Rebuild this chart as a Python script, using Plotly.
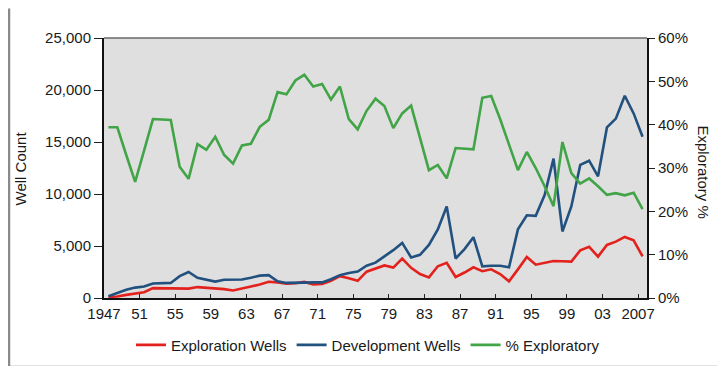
import plotly.graph_objects as go

years = list(range(1947, 2008))

exploration = [100, 150, 300, 400, 550, 950, 950, 920, 920, 900,
               1050, 1000, 880, 850, 720, 880, 1100, 1300, 1560, 1500,
               1380, 1420, 1550, 1300, 1350, 1650, 2100, 1900, 1650, 2530,
               2800, 3130, 2920, 3790, 2900, 2300, 1980, 3050, 3380, 2020,
               2450, 2950, 2580, 2760, 2300, 1600, 2750, 3950, 3200, 3380,
               3550, 3530, 3500, 4580, 4920, 3980, 5100, 5420, 5870, 5550,
               4000]

development = [160, 450, 800, 1000, 1100, 1400, 1420, 1450, 2100, 2500,
               1950, 1750, 1580, 1750, 1800, 1780, 1950, 2150, 2200, 1600,
               1450, 1500, 1480, 1500, 1500, 1800, 2200, 2400, 2550, 3100,
               3400, 4000, 4600, 5300, 3900, 4150, 5100, 6600, 8800, 3800,
               4700, 5850, 3050, 3100, 3100, 2950, 6600, 7950, 7900, 9900,
               13400, 6400, 8800, 12800, 13200, 11700, 16400, 17250, 19450, 17750,
               15500]

pct_exploratory = [39.4, 39.4, 33.0, 26.8, 34.0, 41.3, 41.2, 41.1, 30.3, 27.5,
                   35.5, 34.2, 37.2, 33.0, 31.0, 35.2, 35.6, 39.5, 41.1, 47.5,
                   47.0, 50.2, 51.5, 48.8, 49.4, 45.8, 48.8, 41.3, 38.9, 43.2,
                   46.0, 44.3, 39.2, 42.6, 44.4, 37.0, 29.5, 30.7, 27.6, 34.6,
                   34.4, 34.3, 46.2, 46.6, 41.3, 35.6, 29.5, 33.7, 30.0, 25.8,
                   21.2, 36.0, 28.8, 26.4, 27.6, 25.8, 23.8, 24.2, 23.7, 24.3,
                   20.5]

tick_years = list(range(1947, 2008, 4))
tick_labels = ["1947", "51", "55", "59", "63", "67", "71", "75", "79",
               "83", "87", "91", "95", "99", "03", "2007"]

left_ticks = [0, 5000, 10000, 15000, 20000, 25000]
left_labels = ["0", "5,000", "10,000", "15,000", "20,000", "25,000"]
right_ticks = [0, 10, 20, 30, 40, 50, 60]
right_labels = ["0%", "10%", "20%", "30%", "40%", "50%", "60%"]

RED = "#e3221d"
BLUE = "#22507f"
GREEN = "#41a447"
FONT = "Arial, Liberation Sans, sans-serif"

fig = go.Figure()
fig.add_trace(go.Scatter(x=years, y=exploration, name="Exploration Wells",
                         mode="lines", line=dict(color=RED, width=2.6)))
fig.add_trace(go.Scatter(x=years, y=development, name="Development Wells",
                         mode="lines", line=dict(color=BLUE, width=2.6)))
fig.add_trace(go.Scatter(x=years, y=pct_exploratory, name="% Exploratory",
                         mode="lines", line=dict(color=GREEN, width=2.6),
                         yaxis="y2"))

W, H = 725, 366
ml, mr, mt, mb = 96, 86, 30, 71
pw, ph = W - ml - mr, H - mt - mb

def px(x):
    return (x - ml) / pw

def py(y):
    return (H - mb - y) / ph

fig.update_layout(
    width=W, height=H,
    margin=dict(l=ml, r=mr, t=mt, b=mb, pad=0),
    paper_bgcolor="white",
    plot_bgcolor="#dfdfdf",
    font=dict(family=FONT, size=15, color="#1a1a1a"),
    showlegend=True,
    legend=dict(orientation="h", x=px(360), xanchor="center",
                y=py(343), yanchor="middle",
                font=dict(size=15, color="#1a1a1a"),
                bgcolor="rgba(0,0,0,0)", itemwidth=30, tracegroupgap=0),
    xaxis=dict(range=[1946.5, 2007.5],
               tickvals=[t - 0.5 for t in tick_years], ticktext=tick_labels,
               ticks="inside", ticklen=4, tickcolor="#222", tickwidth=1,
               showline=True, linecolor="#111", linewidth=2,
               showgrid=False, zeroline=False, ticklabelstandoff=1),
    yaxis=dict(range=[0, 25000], tickvals=left_ticks, ticktext=left_labels,
               ticks="outside", ticklen=8, tickcolor="#222",
               showline=True, linecolor="#111", linewidth=2,
               showgrid=False, zeroline=False),
    yaxis2=dict(range=[0, 60], tickvals=right_ticks, ticktext=right_labels,
                overlaying="y", side="right",
                ticks="outside", ticklen=6, tickcolor="#222",
                showline=True, linecolor="#111", linewidth=2,
                showgrid=False, zeroline=False),
    annotations=[
        dict(text="Well Count", x=px(12), y=py(163), xref="paper", yref="paper",
             showarrow=False, textangle=-90, xanchor="center", yanchor="middle",
             font=dict(size=15, color="#1a1a1a")),
        dict(text="Exploratory %", x=px(696), y=py(166), xref="paper", yref="paper",
             showarrow=False, textangle=90, xanchor="center", yanchor="middle",
             font=dict(size=15, color="#1a1a1a")),
    ],
    shapes=[
        dict(type="line", xref="paper", yref="paper", x0=0, x1=1, y0=1, y1=1,
             line=dict(color="#6a6a6a", width=1.5)),
        dict(type="line", xref="paper", yref="paper", x0=px(1), x1=px(1),
             y0=py(0), y1=py(H), line=dict(color="#8a8a8a", width=2.5)),
        dict(type="line", xref="paper", yref="paper", x0=px(W - 1.5), x1=px(W - 1.5),
             y0=py(0), y1=py(H), line=dict(color="#8a8a8a", width=2.5)),
        dict(type="line", xref="paper", yref="paper", x0=px(0), x1=px(W),
             y0=py(H - 1), y1=py(H - 1), line=dict(color="#8a8a8a", width=2)),
    ],
)

fig.write_html("out.html")
